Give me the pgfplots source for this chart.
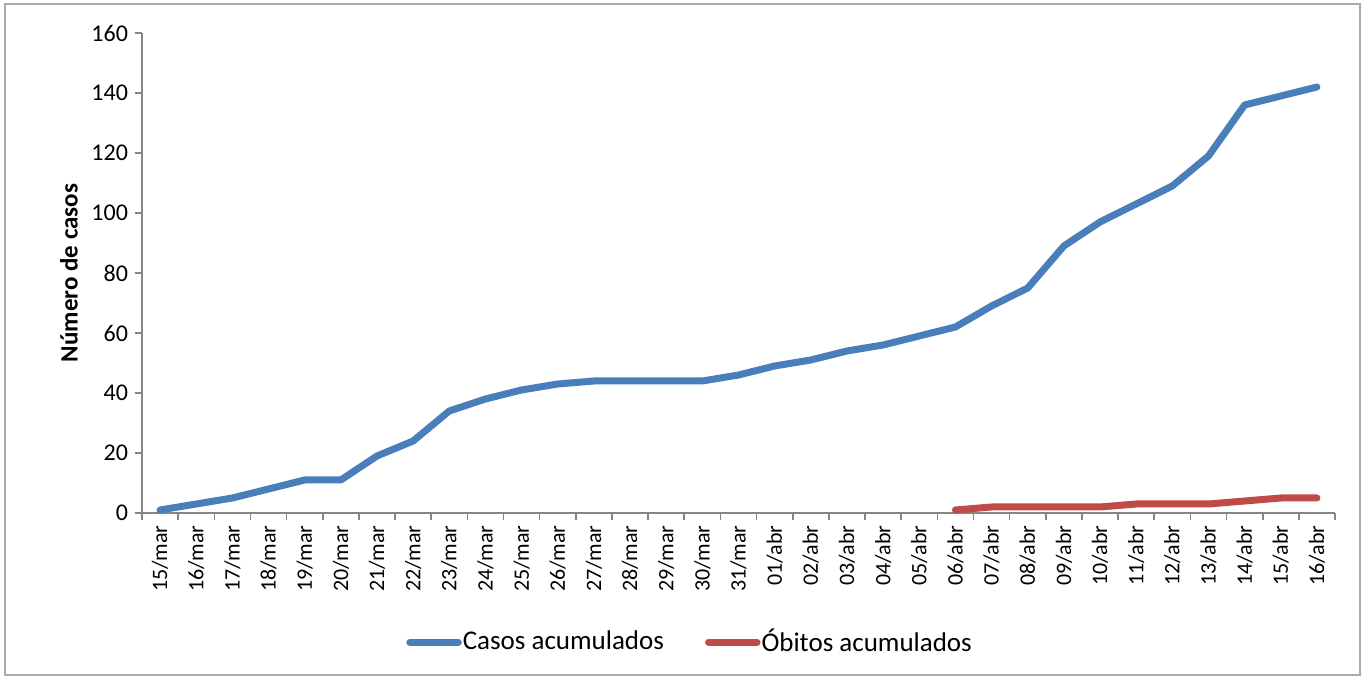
\documentclass[border=0pt]{standalone}
\usepackage{fontspec}
\setmainfont{Carlito}
\usepackage{pgfplots}
\pgfplotsset{compat=1.18}
\definecolor{cblue}{HTML}{4A7EBB}
\definecolor{cred}{HTML}{BE4B48}
\definecolor{axgray}{HTML}{868686}
\begin{document}
\begin{tikzpicture}
\path (-71pt,-83pt) rectangle (611.5pt,256.5pt);
\draw[axgray!70, line width=0.8pt] (-68.5pt,-81pt) rectangle (609pt,254.5pt);
\begin{axis}[
  at={(0,0)}, anchor=south west,
  scale only axis, width=596.5pt, height=240pt,
  xmin=-0.5, xmax=32.5, ymin=0, ymax=160,
  axis lines*=left,
  axis line style={axgray, line width=0.8pt},
  tick style={axgray, line width=0.8pt},
  tick align=outside, major tick length=3.5pt,
  ytick={0,20,...,160},
  xtick={-0.5,0.5,...,32.5}, xticklabels={},
  extra x ticks={0,1,...,32},
  extra x tick labels={15/mar,16/mar,17/mar,18/mar,19/mar,20/mar,21/mar,22/mar,23/mar,24/mar,25/mar,26/mar,27/mar,28/mar,29/mar,30/mar,31/mar,01/abr,02/abr,03/abr,04/abr,05/abr,06/abr,07/abr,08/abr,09/abr,10/abr,11/abr,12/abr,13/abr,14/abr,15/abr,16/abr},
  extra x tick style={major tick length=0pt, tick label style={rotate=90, anchor=east, font=\fontsize{11pt}{13pt}\selectfont, inner sep=2pt, xshift=-4pt}},
  yticklabel style={font=\fontsize{12pt}{14pt}\selectfont},
  /pgf/number format/assume math mode=true,
  ylabel={\textbf{Número de casos}},
  ylabel style={font=\fontsize{12.5pt}{14pt}\selectfont, yshift=0pt},
  legend columns=2,
  legend style={at={(0.459,-0.269)}, anchor=center, draw=none, fill=none,
    font=\fontsize{13.5pt}{15pt}\selectfont,
    nodes={inner xsep=0.5pt},
    /tikz/every even column/.append style={column sep=20pt}},
  legend image code/.code={\draw[#1, line width=3.5pt, line cap=round] (1.75pt,0pt) -- (26pt,0pt);},
  clip=false,
]
\addplot[cblue, line width=3.5pt, line cap=round, line join=round] coordinates {
(0,1)(1,3)(2,5)(3,8)(4,11)(5,11)(6,19)(7,24)(8,34)(9,38)(10,41)(11,43)(12,44)(13,44)(14,44)(15,44)(16,46)(17,49)(18,51)(19,54)(20,56)(21,59)(22,62)(23,69)(24,75)(25,89)(26,97)(27,103)(28,109)(29,119)(30,136)(31,139)(32,142)};
\addlegendentry{Casos acumulados}
\addplot[cred, line width=3.5pt, line cap=round, line join=round] coordinates {
(22,1)(23,2)(24,2)(25,2)(26,2)(27,3)(28,3)(29,3)(30,4)(31,5)(32,5)};
\addlegendentry{Óbitos acumulados}
\end{axis}
\end{tikzpicture}
\end{document}
